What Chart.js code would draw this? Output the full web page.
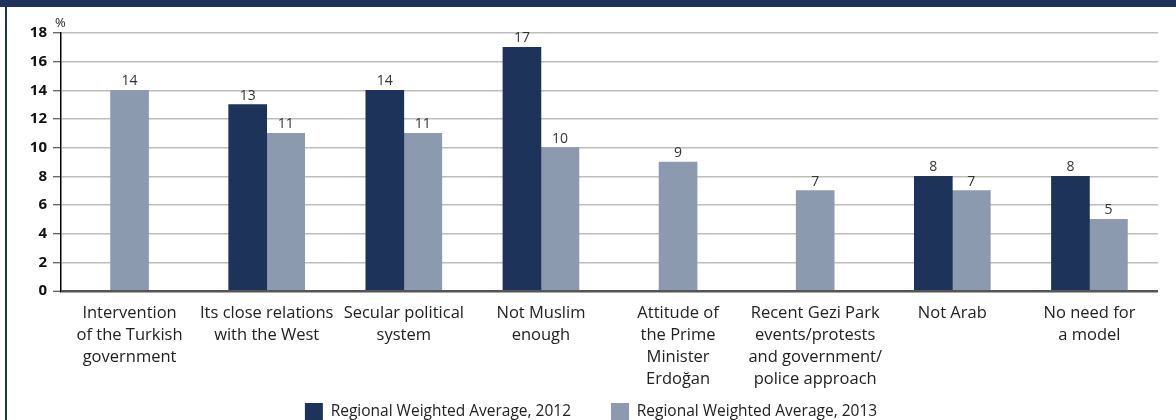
<!DOCTYPE html>
<html>
<head>
<meta charset="utf-8">
<script src="https://cdn.jsdelivr.net/npm/chart.js@4.4.1/dist/chart.umd.min.js"></script>
<style>
  html, body { margin: 0; padding: 0; background: #fff; }
  #wrap { position: relative; width: 1176px; height: 420px; overflow: hidden; }
  #topbar { position: absolute; left: 0; top: 0; width: 1176px; height: 7px; background: #1e3359; }
  #leftbar { position: absolute; left: 5px; top: 0; width: 2px; height: 420px; background: #1e3359; }
  canvas { position: absolute; left: 0; top: 0; }
</style>
</head>
<body>
<div id="wrap">
  <canvas id="c" width="1176" height="420"></canvas>
  <div id="topbar"></div>
  <div id="leftbar"></div>
</div>
<script>
const categories = [
  ["Intervention", "of the Turkish", "government"],
  ["Its close relations", "with the West"],
  ["Secular political", "system"],
  ["Not Muslim", "enough"],
  ["Attitude of", "the Prime", "Minister", "Erdoğan"],
  ["Recent Gezi Park", "events/protests", "and government/", "police approach"],
  ["Not Arab"],
  ["No need for", "a model"]
];
const values2012 = [null, 13, 14, 17, null, null, 8, 8];
const values2013 = [14, 11, 11, 10, 9, 7, 7, 5];
const seriesNames = ["Regional Weighted Average, 2012", "Regional Weighted Average, 2013"];
const yTicks = [0, 2, 4, 6, 8, 10, 12, 14, 16, 18];
const unitLabel = "%";

const FONT = "'Open Sans', Lato, sans-serif";

const valueLabels = {
  id: 'valueLabels',
  afterLayout(chart) {
    const l = chart.legend;
    if (l) { l.left += 12; l.right += 12; }
  },
  afterDatasetsDraw(chart) {
    const ctx = chart.ctx;
    ctx.save();
    ctx.font = "14px " + FONT;
    ctx.fillStyle = "#333";
    ctx.textAlign = "center";
    ctx.textBaseline = "bottom";
    chart.data.datasets.forEach((ds, di) => {
      const meta = chart.getDatasetMeta(di);
      meta.data.forEach((bar, i) => {
        const v = ds.data[i];
        if (v === null || v === undefined) return;
        ctx.fillText(String(v), bar.x, bar.y - 2);
      });
    });
    const ys = chart.scales.y;
    ctx.font = "13px " + FONT;
    ctx.fillStyle = "#222";
    ctx.textAlign = "left";
    ctx.textBaseline = "middle";
    ctx.fillText(unitLabel, ys.right - 6, ys.top - 10);
    ctx.restore();
  }
};

new Chart(document.getElementById('c'), {
  type: 'bar',
  data: {
    labels: categories,
    datasets: [
      { label: seriesNames[0], data: values2012, backgroundColor: '#1e3359', borderWidth: 0 },
      { label: seriesNames[1], data: values2013, backgroundColor: '#8c9ab0', borderWidth: 0 }
    ]
  },
  options: {
    responsive: false,
    animation: false,
    devicePixelRatio: 1,
    skipNull: true,
    barThickness: 38,
    layout: { padding: { left: 0, right: 18, top: 33, bottom: -11 } },
    plugins: {
      legend: {
        position: 'bottom',
        labels: {
          font: { family: FONT, size: 15.5 },
          color: '#222',
          boxWidth: 18,
          boxHeight: 18,
          padding: 40,
          useBorderRadius: false
        }
      },
      tooltip: { enabled: false }
    },
    scales: {
      x: {
        grid: { display: false, drawTicks: false },
        border: { display: false },
        ticks: {
          font: { family: FONT, size: 16.5, lineHeight: '22px' },
          color: '#222',
          padding: 11,
          maxRotation: 0,
          autoSkip: false
        },
        afterFit(scale) {
          scale.height = 72;
          scale._computeLabelArea = () => undefined;
        }
      },
      y: {
        min: 0,
        max: 18,
        afterBuildTicks(scale) { scale.ticks = yTicks.map(v => ({ value: v })); },
        grid: {
          color: (ctx) => ctx.tick && ctx.tick.value === 0 ? '#555' : '#bdbdbd',
          lineWidth: (ctx) => ctx.tick && ctx.tick.value === 0 ? 2.5 : 1.5,
          tickLength: 8,
          tickColor: '#333',
          tickWidth: 1
        },
        border: { display: true, color: '#000', width: 1.5 },
        ticks: {
          font: { family: FONT, size: 15, weight: 'bold' },
          color: '#111',
          padding: 6
        },
        afterFit(scale) { scale.width = 61; }
      }
    }
  },
  plugins: [valueLabels]
});
</script>
</body>
</html>
